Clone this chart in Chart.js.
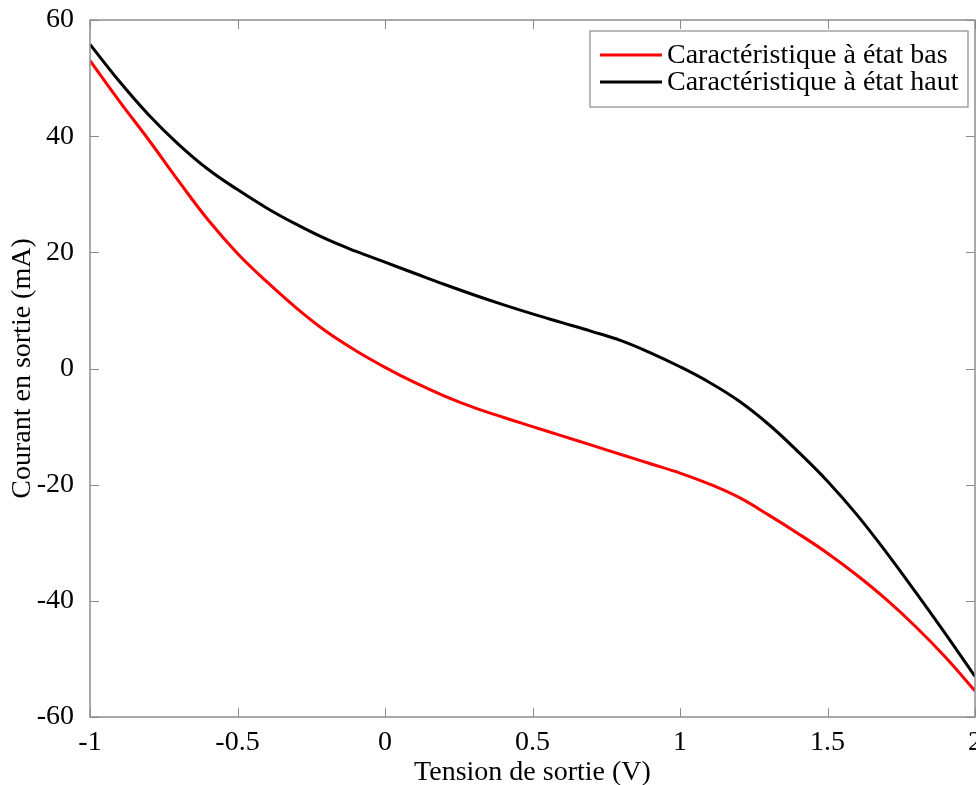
<!DOCTYPE html>
<html>
<head>
<meta charset="utf-8">
<script src="https://cdn.jsdelivr.net/npm/chart.js@4.4.0/dist/chart.umd.min.js"></script>
<style>
    html, body { margin: 0; padding: 0; background: #fff; }
    #wrap { width: 976px; height: 785px; }
</style>
</head>
<body>
<div id="wrap"><canvas id="chart" width="976" height="785"></canvas></div>
<script>
// Output voltage (V)
const tensionV = [-1.0, -0.9, -0.8, -0.7, -0.6, -0.5, -0.4, -0.3, -0.2, -0.1,
    0.0, 0.1, 0.2, 0.3, 0.4, 0.5, 0.6, 0.7, 0.8, 0.9,
    1.0, 1.1, 1.2, 1.3, 1.4, 1.5, 1.6, 1.7, 1.8, 1.9, 2.0];

// Output current, low state (mA)
const courantBas = [53.0, 46.0, 39.3, 32.3, 25.6, 19.8, 14.9, 10.4, 6.4, 3.1,
    0.2, -2.4, -4.7, -6.7, -8.4, -10.0, -11.6, -13.2, -14.8, -16.4,
    -18.0, -19.9, -22.2, -25.2, -28.4, -31.8, -35.6, -39.8, -44.5, -49.7, -55.5];

// Output current, high state (mA)
const courantHaut = [55.8, 49.4, 43.6, 38.6, 34.3, 30.8, 27.6, 24.8, 22.3, 20.2,
    18.3, 16.4, 14.5, 12.7, 11.0, 9.4, 7.9, 6.4, 4.8, 2.7,
    0.3, -2.4, -5.6, -9.6, -14.3, -19.4, -25.2, -31.7, -38.6, -45.7, -53.0];

const xTicks = [-1, -0.5, 0, 0.5, 1, 1.5, 2];
const yTicks = [-60, -40, -20, 0, 20, 40, 60];

const FONT = 'Liberation Serif';
const AXIS_GREY = '#8c8c8c';

function toPoints(xs, ys) {
    return xs.map((x, i) => ({ x: x, y: ys[i] }));
}

// Draw MATLAB-style box with inward ticks and the legend inside the plot
const matlabBox = {
    id: 'matlabBox',
    afterDraw(chart) {
        const ctx = chart.ctx;
        const area = chart.chartArea;
        const xs = chart.scales.x;
        const ys = chart.scales.y;
        const tickLen = 9;

        ctx.save();
        ctx.strokeStyle = AXIS_GREY;
        ctx.lineWidth = 1.5;
        ctx.strokeRect(area.left, area.top, area.right - area.left, area.bottom - area.top);

        ctx.lineWidth = 1;
        ctx.beginPath();
        xTicks.forEach(v => {
            const px = Math.round(xs.getPixelForValue(v)) + 0.5;
            ctx.moveTo(px, area.bottom);
            ctx.lineTo(px, area.bottom - tickLen);
            ctx.moveTo(px, area.top);
            ctx.lineTo(px, area.top + tickLen);
        });
        yTicks.forEach(v => {
            const py = Math.round(ys.getPixelForValue(v)) + 0.5;
            ctx.moveTo(area.left, py);
            ctx.lineTo(area.left + tickLen, py);
            ctx.moveTo(area.right, py);
            ctx.lineTo(area.right - tickLen, py);
        });
        ctx.stroke();

        // Legend
        const box = { left: 590, top: 31, right: 968, bottom: 107 };
        ctx.fillStyle = '#fff';
        ctx.fillRect(box.left, box.top, box.right - box.left, box.bottom - box.top);
        ctx.strokeStyle = AXIS_GREY;
        ctx.lineWidth = 1.2;
        ctx.strokeRect(box.left, box.top, box.right - box.left, box.bottom - box.top);

        ctx.font = '28px "' + FONT + '"';
        ctx.textBaseline = 'middle';
        ctx.textAlign = 'left';
        const rows = [55, 82];
        chart.data.datasets.forEach((ds, i) => {
            const y = rows[i];
            ctx.strokeStyle = ds.borderColor;
            ctx.lineWidth = 3;
            ctx.beginPath();
            ctx.moveTo(600, y);
            ctx.lineTo(662, y);
            ctx.stroke();
            ctx.fillStyle = '#000';
            ctx.fillText(ds.label, 667, y + 1);
        });
        ctx.restore();
    }
};

const ctx = document.getElementById('chart').getContext('2d');
new Chart(ctx, {
    type: 'line',
    data: {
        datasets: [
            {
                label: 'Caractéristique à état bas',
                data: toPoints(tensionV, courantBas),
                borderColor: '#ff0000',
                borderWidth: 3,
                pointRadius: 0,
                tension: 0.4
            },
            {
                label: 'Caractéristique à état haut',
                data: toPoints(tensionV, courantHaut),
                borderColor: '#000000',
                borderWidth: 3,
                pointRadius: 0,
                tension: 0.4
            }
        ]
    },
    options: {
        responsive: false,
        animation: false,
        layout: { padding: { top: 20, right: 1, left: 0, bottom: 0 } },
        plugins: {
            legend: { display: false },
            tooltip: { enabled: false }
        },
        scales: {
            x: {
                type: 'linear',
                min: -1,
                max: 2,
                afterBuildTicks: scale => { scale.ticks = xTicks.map(v => ({ value: v })); },
                afterFit: scale => {
                    scale.height = 68;
                    scale.paddingLeft = 0;
                    scale.paddingRight = 0;
                },
                grid: { display: false },
                border: { display: false },
                ticks: {
                    color: '#000',
                    padding: 4,
                    maxRotation: 0,
                    autoSkip: false,
                    callback: v => String(v),
                    font: { family: FONT, size: 28, lineHeight: 1.0 }
                },
                title: {
                    display: true,
                    text: 'Tension de sortie (V)',
                    color: '#000',
                    padding: { top: 0, bottom: 0 },
                    font: { family: FONT, size: 28, lineHeight: 0.9 }
                }
            },
            y: {
                type: 'linear',
                min: -60,
                max: 60,
                afterBuildTicks: scale => { scale.ticks = yTicks.map(v => ({ value: v })); },
                afterFit: scale => {
                    scale.width = 90;
                    scale.paddingTop = 0;
                    scale.paddingBottom = 0;
                },
                grid: { display: false },
                border: { display: false },
                ticks: {
                    color: '#000',
                    padding: 8,
                    autoSkip: false,
                    callback: v => String(v),
                    font: { family: FONT, size: 28, lineHeight: 1.0 }
                },
                title: {
                    display: true,
                    text: 'Courant en sortie (mA)',
                    color: '#000',
                    padding: { top: 9, bottom: 0 },
                    font: { family: FONT, size: 28, lineHeight: 1.0 }
                }
            }
        }
    },
    plugins: [matlabBox]
});
</script>
</body>
</html>
